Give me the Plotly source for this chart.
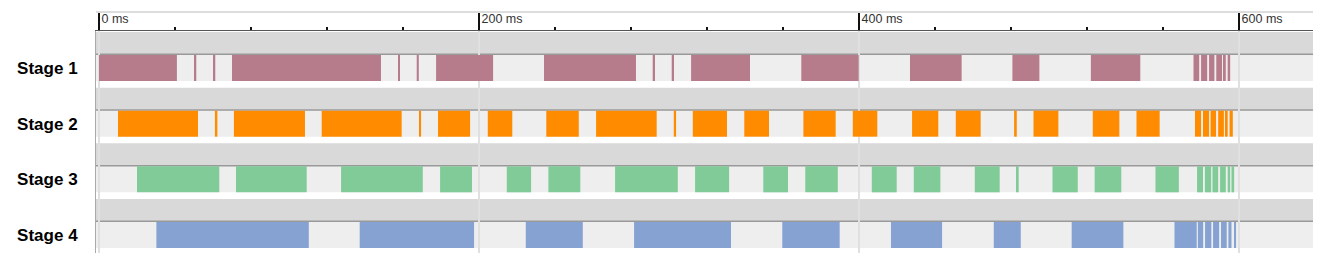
import plotly.graph_objects as go

# ---- data (ms) ----
stages = ["Stage 1", "Stage 2", "Stage 3", "Stage 4"]
stage_colors = ["#b77c8c", "#ff8c00", "#80cb98", "#86a2d3"]

stage1_start = [0, 50.3, 60.2, 70, 157.4, 167.2, 177.4, 234.2, 291.4, 301.4, 311.6, 369.6, 426.8, 480.7, 522, 576, 580, 584.2, 588, 592, 594]
stage1_end   = [41, 51.2, 61.2, 148.4, 158.4, 168.3, 207.4, 282.6, 292.6, 302.6, 342.6, 399.8, 454, 494.9, 548, 579, 583.2, 587, 591, 593, 595.3]

stage2_start = [10, 61, 71, 117.2, 168.4, 178.4, 204.6, 235.4, 261.6, 302.5, 312.5, 339.6, 370.7, 396.7, 427.9, 450.9, 481.6, 491.8, 523, 546, 576.8, 581, 585, 589, 593, 595]
stage2_end   = [52.1, 62.3, 108.4, 159.3, 169.5, 195.3, 217.5, 252.5, 293.5, 303.7, 330.5, 352.6, 387.7, 409.6, 441.7, 464, 483, 504.9, 537, 558.2, 580, 584.2, 587.9, 592, 594, 596.7]

stage3_start = [20, 72.1, 127.4, 179.5, 214.6, 236.5, 271.6, 313.7, 349.6, 371.7, 406.7, 428.8, 460.9, 482.6, 501.8, 524, 556, 577.9, 582, 586, 590, 594, 596]
stage3_end   = [63.3, 109.3, 170.4, 196.3, 227.4, 253.3, 304.6, 331.6, 362.6, 388.8, 419.8, 442.8, 474, 484, 515.1, 538, 568.3, 581, 585.3, 589, 593, 595.3, 597.4]

stage4_start = [30.2, 137.2, 224.6, 281.6, 359.6, 416.8, 470.9, 511.9, 566, 578.3, 582.1, 586.3, 590.5, 594.4, 597.4]
stage4_end   = [110.4, 197.4, 254.6, 332.6, 389.8, 443.7, 485.1, 539.1, 577.7, 581.1, 585.4, 589.5, 593.5, 596, 598.4]

starts = [stage1_start, stage2_start, stage3_start, stage4_start]
ends = [stage1_end, stage2_end, stage3_end, stage4_end]

fig = go.Figure()
for name, color, s, e in zip(stages, stage_colors, starts, ends):
    fig.add_trace(go.Bar(
        orientation="h",
        y=[name] * len(s),
        base=s,
        x=[b - a for a, b in zip(s, e)],
        width=0.467,
        marker=dict(color=color, line=dict(width=0)),
        showlegend=False,
        hoverinfo="skip",
    ))

# row backgrounds
shapes = []
for i in range(len(stages)):
    shapes.append(dict(type="rect", xref="paper", yref="y", x0=0, x1=1,
                       y0=i - 0.647, y1=i - 0.248, fillcolor="#d9d9d9",
                       line=dict(width=0), layer="below"))
    shapes.append(dict(type="rect", xref="paper", yref="y", x0=0, x1=1,
                       y0=i - 0.245, y1=i + 0.233, fillcolor="#eeeeee",
                       line=dict(width=0), layer="below"))
    shapes.append(dict(type="line", xref="paper", yref="y", x0=0, x1=1,
                       y0=i - 0.246, y1=i - 0.246,
                       line=dict(color="#999999", width=1.5), layer="below"))
# top border of axis band
shapes.append(dict(type="line", xref="paper", yref="paper", x0=0, x1=1,
                   y0=1.0856, y1=1.0856, line=dict(color="#dddddd", width=2)))

fig.update_layout(
    width=1325, height=265,
    margin=dict(l=96, r=12, t=31, b=12),
    paper_bgcolor="white", plot_bgcolor="white",
    barmode="overlay",
    shapes=shapes,
    font=dict(family="Liberation Sans, Arial, sans-serif"),
    xaxis=dict(
        side="top", range=[-1.58, 638.9], automargin=False,
        tickmode="linear", tick0=0, dtick=200, ticksuffix=" ms",
        ticks="outside", ticklen=17, tickwidth=2, tickcolor="#111111",
        ticklabelposition="outside right", ticklabelstandoff=2, ticklabelshift=1,
        tickfont=dict(size=12.5, color="#333333"),
        showline=True, linecolor="#555555", linewidth=1,
        showgrid=True, gridcolor="#e0e0e0", gridwidth=2,
        zeroline=False,
        minor=dict(tick0=0, dtick=40, ticks="outside", ticklen=3, tickwidth=2,
                   tickcolor="#111111", showgrid=False),
    ),
    yaxis=dict(
        type="category", categoryorder="array", categoryarray=stages,
        range=[3.323, -0.6645], automargin=False,
        showgrid=False, zeroline=False,
        showline=True, linecolor="#aaaaaa", linewidth=1,
        ticks="", ticklabelstandoff=14,
        tickfont=dict(size=17, color="#000000", family="Liberation Sans, Arial, sans-serif", weight="bold"),
    ),
)

fig.write_html(
    "out.html",
    config={"displayModeBar": False},
    post_script="document.body.style.margin='0';document.body.style.overflow='hidden';",
)
